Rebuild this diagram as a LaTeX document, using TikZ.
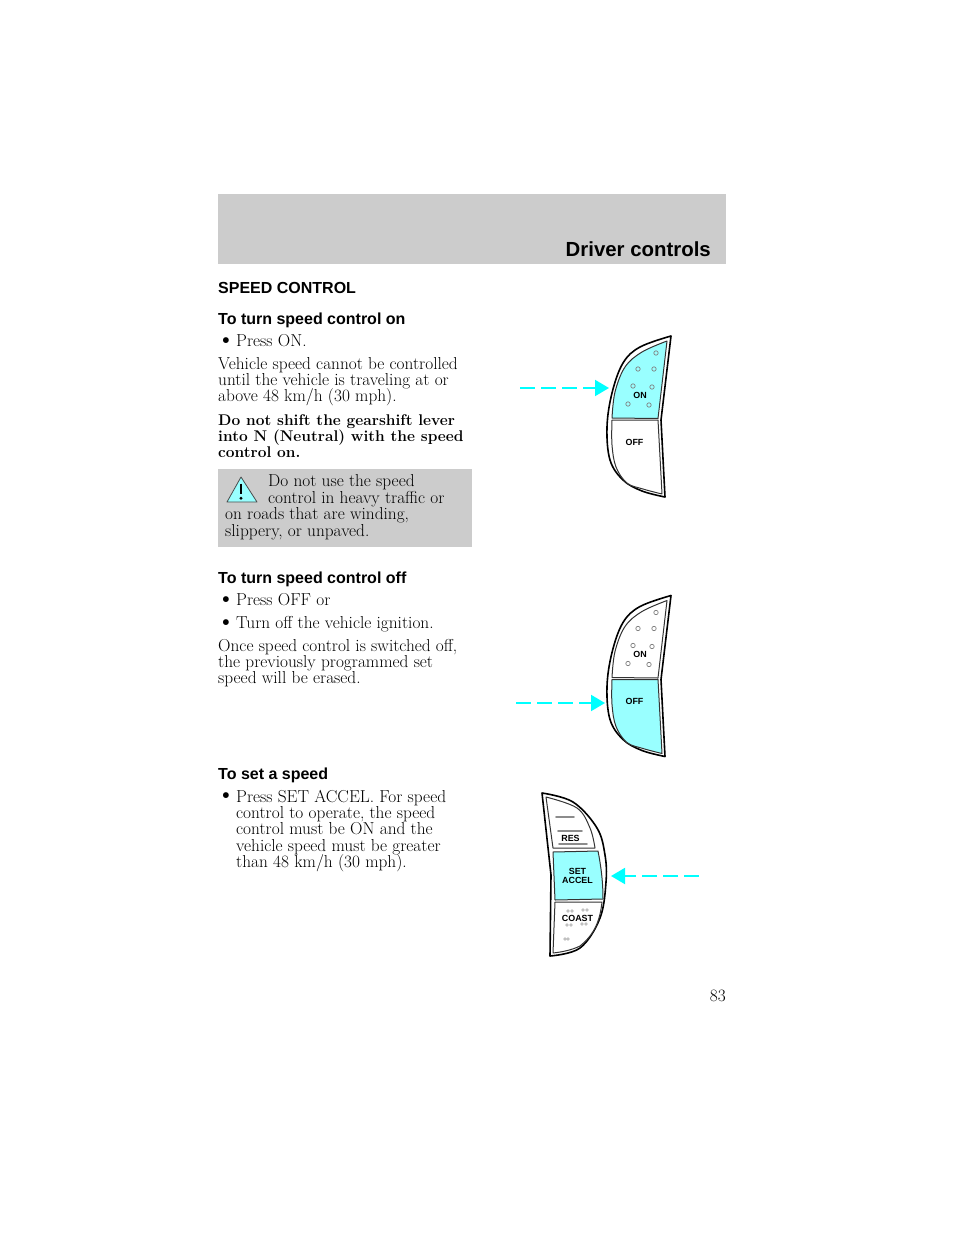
\documentclass[tikz,border=0pt]{standalone}
\usepackage{fontspec}
\setsansfont{Liberation Sans}
\usetikzlibrary{arrows.meta, calc}
\definecolor{pagegray}{HTML}{CCCCCC}
\definecolor{keycyan}{HTML}{99FFFF}
\definecolor{arrowcyan}{HTML}{00FFFF}
\tikzset{
  bodytext/.style={anchor=base west,inner sep=0pt,font=\fontsize{17.3}{18}\selectfont},
  boldtext/.style={bodytext,font=\fontsize{15.5}{16}\selectfont\bfseries},
  bullettext/.style={anchor=base west,inner sep=0pt,font=\fontsize{26}{26}\selectfont},
  headtext/.style={anchor=base west,inner sep=0pt,font=\fontsize{16}{17}\selectfont\sffamily\bfseries},
  keylabel/.style={inner sep=0pt,align=center,font=\fontsize{8.9}{8.8}\selectfont\sffamily\bfseries},
  keyshell/.style={draw=black,line width=1.6pt,fill=white,line join=round},
  keyface/.style={draw=black!80,line width=1pt,line join=round},
  keyhole/.style={draw=black!50,line width=.7pt,fill=none},
  keyline/.style={draw=black!45,line width=1.6pt,line cap=round},
  pressarrow/.style={draw=arrowcyan,line width=2pt,dash pattern=on 15pt off 6pt,
    -{Triangle[width=16pt,length=14pt,sep=0pt]}}
}
\begin{document}
\begin{tikzpicture}[x=1pt,y=-1pt]
\useasboundingbox (0,0) rectangle (960,1242);
\fill[white] (0,0) rectangle (960,1242);
\node[fill=pagegray,minimum width=508pt,minimum height=70pt,inner sep=0pt,anchor=north west] (banner) at (218,194) {};
\node[anchor=base east,inner sep=0pt,font=\fontsize{20.4}{22}\selectfont\sffamily\bfseries] (chapter) at (711,256) {Driver controls};
\node[headtext] (title) at (218,293) {SPEED CONTROL};
\node[headtext] (head-on) at (218,324) {To turn speed control on};
\node[bullettext] (bul-on) at (216.5,347.5) {\textbullet};
\node[bodytext] (press-on) at (236,346.6) {Press ON.};
\foreach \X [count=\Y] in {{Vehicle speed cannot be controlled},{until the vehicle is traveling at or},{above 48 km/h (30 mph).}}
  {\node[bodytext] (veh-\Y) at (218,{369.4+16.2*(\Y-1)}) {\X};}
\foreach \X [count=\Y] in {{Do not shift the gearshift lever},{into N (Neutral) with the speed},{control on.}}
  {\node[boldtext] (shift-\Y) at (218,{425+16.2*(\Y-1)}) {\X};}
% warning box
\node[fill=pagegray,minimum width=254pt,minimum height=78pt,inner sep=0pt,anchor=north west] (warnbox) at (218,469) {};
\draw[draw=black!70,fill=keycyan,line width=.8pt,line join=round] (241,477) -- (227,502) -- (257,502) -- cycle;
\draw[line width=2.6pt] (241,483.5) -- (241,494);
\fill (241,498.3) circle (1.6pt);
\foreach \X [count=\Y] in {{Do not use the speed},{control in heavy traffic or}}
  {\node[bodytext] (warn-\Y) at (268,{486.5+16.5*(\Y-1)}) {\X};}
\foreach \X [count=\Y] in {{on roads that are winding,},{slippery, or unpaved.}}
  {\node[bodytext] (warnb-\Y) at (225,{519.5+16.5*(\Y-1)}) {\X};}
\node[headtext] (head-off) at (218,583) {To turn speed control off};
\node[bullettext] (bul-off) at (216.5,606.5) {\textbullet};
\node[bodytext] (press-off) at (236,605.6) {Press OFF or};
\node[bullettext] (bul-ign) at (216.5,629.5) {\textbullet};
\node[bodytext] (turn-off) at (236,628.6) {Turn off the vehicle ignition.};
\foreach \X [count=\Y] in {{Once speed control is switched off,},{the previously programmed set},{speed will be erased.}}
  {\node[bodytext] (once-\Y) at (218,{651.5+16.2*(\Y-1)}) {\X};}
\node[headtext] (head-set) at (218,779) {To set a speed};
\node[bullettext] (bul-set) at (216.5,802.5) {\textbullet};
\foreach \X [count=\Y] in {{Press SET ACCEL. For speed},{control to operate, the speed},{control must be ON and the},{vehicle speed must be greater},{than 48 km/h (30 mph).}}
  {\node[bodytext] (set-\Y) at (236,{802+16.4*(\Y-1)}) {\X};}
\node[anchor=base east,inner sep=0pt,font=\fontsize{17.3}{18}\selectfont] (pageno) at (726,1001.5) {83};
% ON / OFF switches
\foreach \S/\A/\B [count=\Y] in {0/keycyan/white,259.5/white/keycyan}
  {\begin{scope}[yshift=-\S pt]
  \draw[keyshell] plot[smooth,tension=.6] coordinates {(671,336) (640,347) (623,363) (612,393) (607,427) (610,460) (623,480) (642,491) (665,497)} -- (661,420) -- cycle;
  \draw[keyface,fill=\A] plot[smooth,tension=.6] coordinates {(667,341) (642,352) (625,367) (615,392) (612,418)} -- (658,418.5) -- cycle;
  \draw[keyface,fill=\B] plot[smooth,tension=.6] coordinates {(612,420) (612,445) (616,467) (627,483) (643,489) (662,494)} -- (658,420) -- cycle;
  \foreach \P/\Q in {656/353,638/369,654/369,633/386,652/387,628/404,649/405}
    {\draw[keyhole] (\P,\Q) circle (2.2pt);}
  \node[keylabel] (on-\Y) at (640,395) {ON};
  \node[keylabel] (off-\Y) at (634.5,442) {OFF};
  \end{scope}}
\coordinate (a1) at (520,388);
\coordinate (b1) at (609,388);
\coordinate (a2) at (516,703);
\coordinate (b2) at (605,703);
\draw[pressarrow] (a1) -- (b1);
\draw[pressarrow] (a2) -- (b2);
% RES / SET / COAST switch
\draw[keyshell] plot[smooth,tension=.6] coordinates {(542,793) (573,802) (597,828) (605,855) (606,882) (600,918) (580,948) (550,956)} -- (551,875) -- cycle;
\draw[keyface,fill=white] plot[smooth,tension=.6] coordinates {(546,797) (577,808) (590,828) (595,848)} -- (553,848) -- cycle;
\draw[keyface,fill=keycyan] (553,852) -- (598,851) .. controls (601,866) and (603,882) .. (603,899) -- (555,900) -- cycle;
\draw[keyface,fill=white] (555,902) -- (602,902) .. controls (600,920) and (595,934) .. (580,946) .. controls (572,950) and (562,952) .. (553,953) -- cycle;
\foreach \P/\Q/\R in {556/574/817,558/582/831,559/587/844}
  {\draw[keyline] (\P,\R) -- (\Q,\R);}
\foreach \P/\Q in {568/911,572/911,583/910,587/910,567/925,571/925,582/924,586/924,565/939,568/939}
  {\draw[keyhole,line width=.45pt] (\P,\Q) circle (1.4pt);}
\node[keylabel] (res) at (570.5,838.5) {RES};
\node[keylabel] (setaccel) at (577.5,876) {SET\\ACCEL};
\node[keylabel] (coast) at (577.5,918) {COAST};
\coordinate (a3) at (699,876);
\coordinate (b3) at (611,876);
\draw[pressarrow] (a3) -- (b3);
\end{tikzpicture}
\end{document}
